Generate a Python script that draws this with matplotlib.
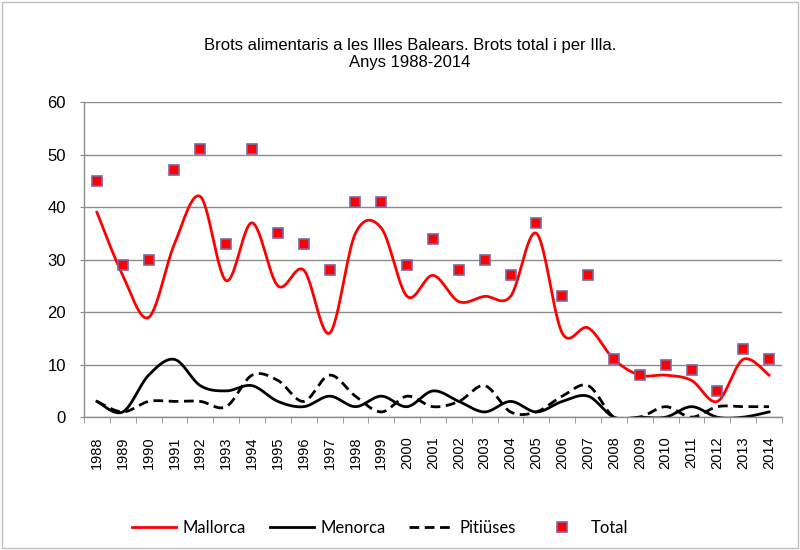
import numpy as np
import matplotlib.pyplot as plt
from matplotlib.patches import Rectangle

years = list(range(1988, 2015))
mallorca = [39, 27, 19, 33, 42, 26, 37, 25, 28, 16, 35, 36, 23, 27, 22, 23, 23, 35, 16, 17, 11, 8, 8, 7, 3, 11, 8]
menorca = [3, 1, 8, 11, 6, 5, 6, 3, 2, 4, 2, 4, 2, 5, 3, 1, 3, 1, 3, 4, 0, 0, 0, 2, 0, 0, 1]
pitiuses = [3, 1, 3, 3, 3, 2, 8, 7, 3, 8, 4, 1, 4, 2, 3, 6, 1, 1, 4, 6, 0, 0, 2, 0, 2, 2, 2]
total = [45, 29, 30, 47, 51, 33, 51, 35, 33, 28, 41, 41, 29, 34, 28, 30, 27, 37, 23, 27, 11, 8, 10, 9, 5, 13, 11]


def smooth(y, n=30):
    # Excel-style smoothed line: cubic Bezier with control points from neighbours
    y = np.asarray(y, dtype=float)
    x = np.arange(len(y), dtype=float)
    p = np.column_stack([x, y])
    p = np.vstack([p[0], p, p[-1]])
    t = np.linspace(0, 1, n)[:, None]
    out = []
    for i in range(1, len(p) - 2):
        p0, p3 = p[i], p[i + 1]
        c1 = p0 + (p[i + 1] - p[i - 1]) / 6
        c2 = p3 - (p[i + 2] - p[i]) / 6
        seg = ((1 - t) ** 3) * p0 + 3 * ((1 - t) ** 2) * t * c1 + 3 * (1 - t) * t ** 2 * c2 + t ** 3 * p3
        out.append(seg if i == 1 else seg[1:])
    out = np.vstack(out)
    return out[:, 0], out[:, 1]


plt.rcParams['font.family'] = ['Liberation Sans', 'DejaVu Sans']

fig = plt.figure(figsize=(8, 5.5), dpi=100)
ax = fig.add_axes([0.105, 0.2415, 0.8725, 0.573])

gray = '#8c8c8c'
ax.grid(True, axis='y', color=gray, linewidth=1)
ax.set_axisbelow(True)

xs, ys = smooth(mallorca)
ax.plot(xs, ys, color='#ff0000', linewidth=2, label='Mallorca')
xs, ys = smooth(menorca)
ax.plot(xs, ys, color='black', linewidth=2, label='Menorca')
xs, ys = smooth(pitiuses)
ax.plot(xs, ys, color='black', linewidth=2, linestyle=(0, (3.5, 2)), label='Pitiüses')
ax.plot(range(len(years)), total, linestyle='none', marker='s', markersize=7,
        markerfacecolor='#ff0000', markeredgecolor='#8064a2', markeredgewidth=1.2, label='Total')

ax.set_xlim(-0.5, len(years) - 0.5)
ax.set_ylim(0, 60)
ax.set_yticks(range(0, 61, 10))
ax.set_xticks(range(len(years)))
ax.set_xticklabels([str(y) for y in years], rotation=90, fontsize=10.5)
ax.set_xticks(np.arange(-0.5, len(years), 1), minor=True)
ax.tick_params(axis='x', which='major', length=0, pad=14)
ax.tick_params(axis='x', which='minor', length=4, color=gray, direction='out')
ax.tick_params(axis='y', length=3, color=gray, labelsize=12, pad=10)

for s in ['top', 'right']:
    ax.spines[s].set_visible(False)
for s in ['left', 'bottom']:
    ax.spines[s].set_color(gray)
    ax.spines[s].set_linewidth(1)

fig.text(0.5125, 0.902, 'Brots alimentaris a les Illes Balears. Brots total i per Illa.\nAnys 1988-2014',
         ha='center', va='center', fontsize=12, linespacing=1.2)

leg = fig.legend(loc='center', bbox_to_anchor=(0.475, 0.04), ncol=4, frameon=False,
                 prop={'family': 'Lato', 'size': 12}, handlelength=2.65,
                 handletextpad=0.4, columnspacing=1.4)

fig.patches.append(Rectangle((0.003, 0.003), 0.994, 0.994, transform=fig.transFigure,
                             fill=False, edgecolor='#bfbfbf', linewidth=1))

fig.savefig('out.png', dpi=100)
